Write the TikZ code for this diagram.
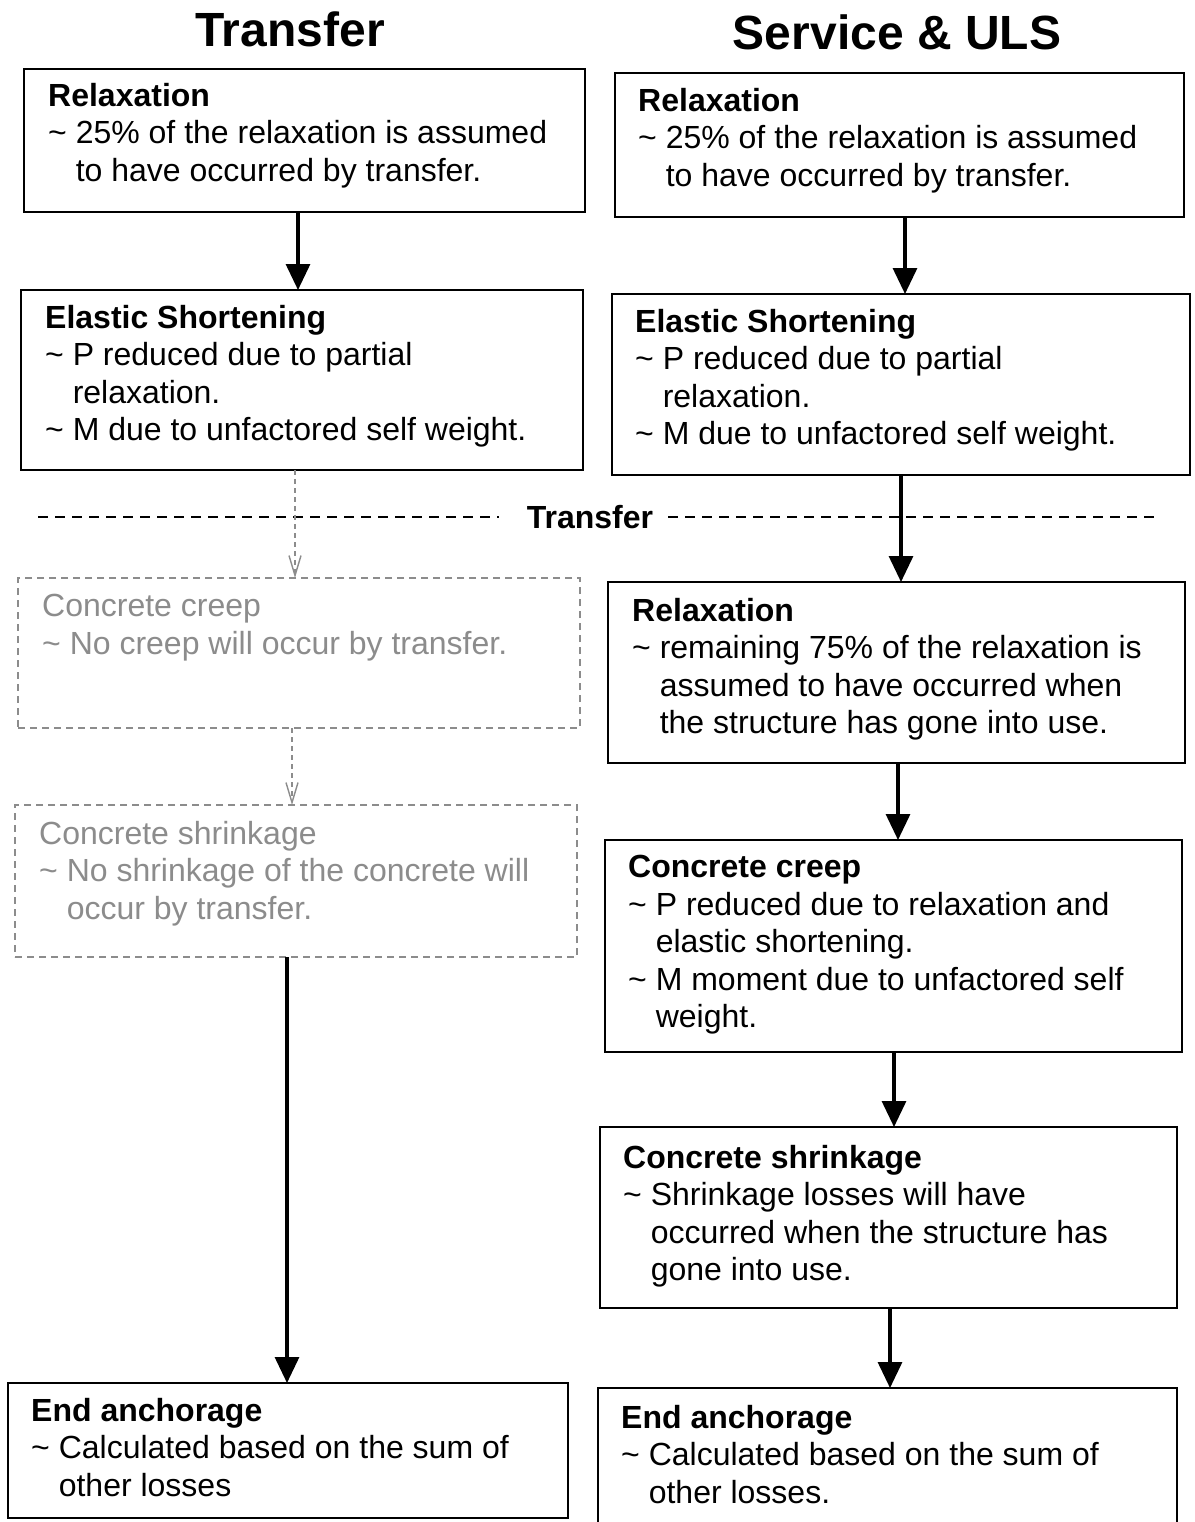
\documentclass[tikz,border=0pt]{standalone}
\usepackage{fontspec}
\setmainfont{Liberation Sans}
\usetikzlibrary{arrows.meta}
\definecolor{ghostc}{gray}{0.55}
\newcommand{\bodyfont}{\fontsize{32}{37.5}\selectfont}
\newcommand{\hang}{\hphantom{\textasciitilde\ }}
\newcommand{\tl}{\textasciitilde\ }
\newcommand{\stage}[9]{%
  \node[#1, minimum width={(#5-#3)*1pt}, minimum height={(#6-#4)*1pt}, anchor=north west] (#2) at (#3,#4) {};
  \node[#1txt, anchor=north west] (#2-t) at (#7,#8) {#9};
}
\tikzset{
  box/.style={draw, line width=2.6pt, inner sep=0pt, outer sep=0pt},
  boxtxt/.style={inner sep=0pt, align=left, font=\bodyfont},
  ghost/.style={draw=ghostc, line width=1.4pt, dash pattern=on 7pt off 5pt, inner sep=0pt, outer sep=0pt},
  ghosttxt/.style={inner sep=0pt, align=left, font=\bodyfont, text=ghostc},
  arr/.style={line width=3.2pt, -{Triangle[length=26pt,width=24pt]}},
  garr/.style={draw=ghostc, line width=1.4pt, dash pattern=on 5pt off 4pt, -{Straight Barb[length=20pt,width=12pt]}},
  sepline/.style={line width=2.2pt, dash pattern=on 10pt off 7pt},
  title/.style={font=\fontsize{48}{52}\selectfont\bfseries, inner sep=0pt, anchor=base},
}
\begin{document}
\begin{tikzpicture}[x=1pt,y=-1pt]
\useasboundingbox[fill=white] (0,0) rectangle (1194,1522);
% titles
\node[title] (tleft) at (290,47) {Transfer};
\node[title] (tright) at (897,50) {Service \& ULS};
% left column
\stage{box}{L1}{24}{69}{585}{212}{48}{83}{{\bfseries Relaxation}\\\tl 25\% of the relaxation is assumed\\\hang to have occurred by transfer.}
\stage{box}{L2}{21}{290}{583}{470}{45}{305}{{\bfseries Elastic Shortening}\\\tl P reduced due to partial\\\hang relaxation.\\\tl M due to unfactored self weight.}
\stage{ghost}{L3}{18}{578}{580}{728}{42}{594}{Concrete creep\\\tl No creep will occur by transfer.}
\stage{ghost}{L4}{15}{805}{577}{957}{39}{821}{Concrete shrinkage\\\tl No shrinkage of the concrete will\\\hang occur by transfer.}
\stage{box}{L5}{8}{1383}{568}{1518}{31}{1398}{{\bfseries End anchorage}\\\tl Calculated based on the sum of\\\hang other losses}
% right column
\stage{box}{R1}{615}{73}{1184}{217}{638}{88}{{\bfseries Relaxation}\\\tl 25\% of the relaxation is assumed\\\hang to have occurred by transfer.}
\stage{box}{R2}{612}{294}{1190}{475}{635}{309}{{\bfseries Elastic Shortening}\\\tl P reduced due to partial\\\hang relaxation.\\\tl M due to unfactored self weight.}
\stage{box}{R3}{608}{582}{1185}{763}{632}{598}{{\bfseries Relaxation}\\\tl remaining 75\% of the relaxation is\\\hang assumed to have occurred when\\\hang the structure has gone into use.}
\stage{box}{R4}{605}{840}{1182}{1052}{628}{855}{{\bfseries Concrete creep}\\\tl P reduced due to relaxation and\\\hang elastic shortening.\\\tl M moment due to unfactored self\\\hang weight.}
\stage{box}{R5}{600}{1127}{1177}{1308}{623}{1145}{{\bfseries Concrete shrinkage}\\\tl Shrinkage losses will have\\\hang occurred when the structure has\\\hang gone into use.}
\stage{box}{R6}{598}{1388}{1177}{1540}{621}{1405}{{\bfseries End anchorage}\\\tl Calculated based on the sum of\\\hang other losses.}
% transfer separator
\node[font=\bodyfont\bfseries, inner sep=0pt] (sep) at (590,517) {Transfer};
\coordinate (sepL) at (38,517);
\coordinate (sepR) at (1155,517);
\draw[sepline] (sepL) -- ([xshift=-28pt]sep.west);
\draw[sepline] ([xshift=15pt]sep.east) -- (sepR);
% connectors
\draw[arr] (298,0 |- L1.south) -- (298,0 |- L2.north);
\draw[garr] (295,0 |- L2.south) -- (295,0 |- L3.north);
\draw[garr] (292,0 |- L3.south) -- (292,0 |- L4.north);
\draw[arr] (287,0 |- L4.south) -- (287,0 |- L5.north);
\draw[arr] (905,0 |- R1.south) -- (905,0 |- R2.north);
\draw[arr] (901,0 |- R2.south) -- (901,0 |- R3.north);
\draw[arr] (898,0 |- R3.south) -- (898,0 |- R4.north);
\draw[arr] (894,0 |- R4.south) -- (894,0 |- R5.north);
\draw[arr] (890,0 |- R5.south) -- (890,0 |- R6.north);
\end{tikzpicture}
\end{document}
